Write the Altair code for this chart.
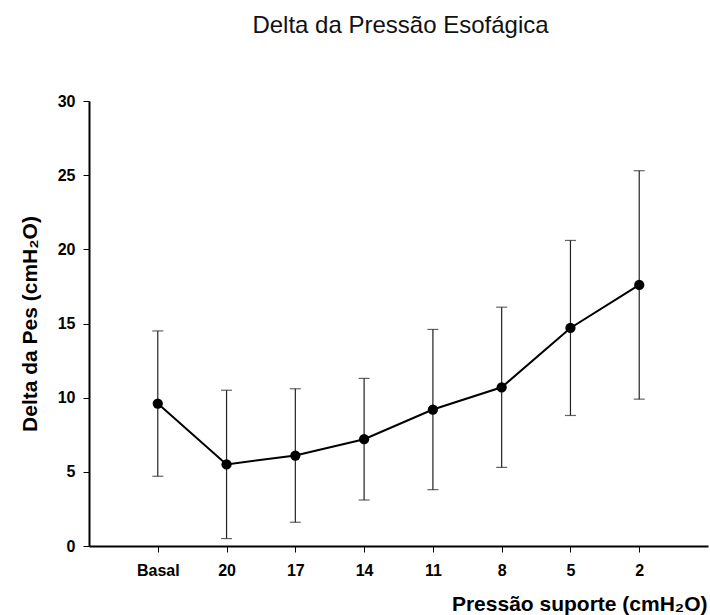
import altair as alt
import pandas as pd

# Pressure-support steps (cmH2O) and esophageal pressure swing statistics
steps = ["Basal", "20", "17", "14", "11", "8", "5", "2"]
mean_pes = [9.6, 5.5, 6.1, 7.2, 9.2, 10.7, 14.7, 17.6]
upper_pes = [14.5, 10.5, 10.6, 11.3, 14.6, 16.1, 20.6, 25.3]
lower_pes = [4.7, 0.5, 1.6, 3.1, 3.8, 5.3, 8.8, 9.9]

df = pd.DataFrame({
    "pos": list(range(1, len(steps) + 1)),
    "step": steps,
    "mean": mean_pes,
    "hi": upper_pes,
    "lo": lower_pes,
})

FONT = "Liberation Sans"
label_expr = "[" + ",".join(f"'{s}'" for s in steps) + "][datum.value - 1]"

x_enc = alt.X(
    "pos:Q",
    scale=alt.Scale(domain=[0, 9], nice=False, zero=False),
    axis=alt.Axis(
        values=list(range(1, len(steps) + 1)),
        labelExpr=label_expr,
        title="Pressão suporte (cmH₂O)",
        titleAlign="right",
        titleAnchor="end",
        titleBaseline="alphabetic",
        titleX=618,
        titleY=64,
        labelPadding=10,
    ),
)

y_axis = alt.Axis(
    values=[0, 5, 10, 15, 20, 25, 30],
    title="Delta da Pes (cmH₂O)",
    titleBaseline="alphabetic",
    titleX=-53,
    labelPadding=8,
)

base = alt.Chart(df)

bars = base.mark_errorbar(ticks=True, size=11, thickness=1.2, color="#222222").encode(
    x=x_enc,
    y=alt.Y("lo:Q", scale=alt.Scale(domain=[0, 30], nice=False), axis=y_axis),
    y2="hi:Q",
)

line = base.mark_line(color="black", strokeWidth=2).encode(
    x=x_enc,
    y=alt.Y("mean:Q", scale=alt.Scale(domain=[0, 30], nice=False), axis=y_axis),
)

points = base.mark_circle(color="black", size=105, opacity=1).encode(
    x=x_enc,
    y=alt.Y("mean:Q", scale=alt.Scale(domain=[0, 30], nice=False), axis=y_axis),
)

chart = (
    alt.layer(bars, line, points)
    .properties(
        width=619,
        height=445,
        autosize=alt.AutoSizeParams(type="none"),
        padding={"left": 89, "top": 101, "right": 2, "bottom": 69},
        title=alt.TitleParams(
            "Delta da Pressão Esofágica",
            anchor="middle",
            frame="group",
            font=FONT,
            fontSize=24,
            fontWeight="normal",
            color="#111111",
            baseline="alphabetic",
            offset=36,
            dx=2,
        ),
    )
    .configure_view(stroke=None)
    .configure_axis(
        grid=False,
        domainColor="black",
        domainWidth=2,
        tickColor="black",
        tickWidth=1,
        tickSize=6,
        labelFont=FONT,
        labelFontSize=16,
        labelFontWeight="bold",
        labelColor="black",
        titleFont=FONT,
        titleFontSize=21,
        titleFontWeight="bold",
        titleColor="black",
    )
)

chart.save("out.html", embed_options={"renderer": "svg", "actions": False})
